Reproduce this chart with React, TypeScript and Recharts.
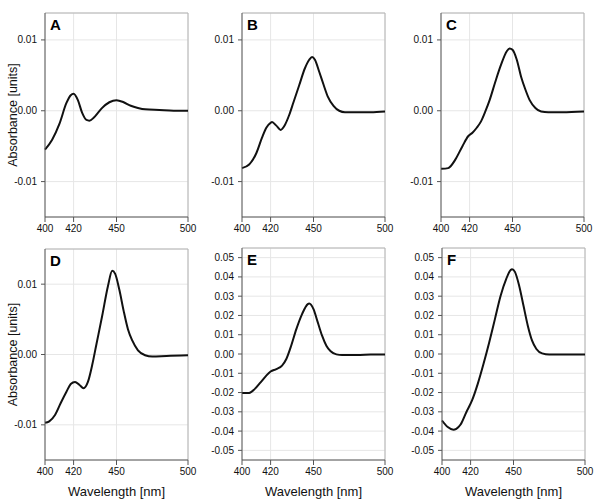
import React from "react";
import { LineChart, Line, XAxis, YAxis, CartesianGrid, ReferenceLine } from "recharts";

// difference spectra
const wavelengthA = [400, 405, 410, 415, 418, 420, 423, 426, 429, 431, 434, 437, 440, 445, 450, 455, 460, 465, 470, 480, 490, 500];
const absorbanceA = [-0.0055, -0.0041, -0.0019, 0.0011, 0.0022, 0.0024, 0.0015, -0.0003, -0.0013, -0.0014, -0.001, -0.0003, 0.0004, 0.0012, 0.0015, 0.0012, 0.0007, 0.0004, 0.0002, 0.0001, 0.0, 0.0];

const wavelengthB = [400, 405, 410, 414, 417, 420, 421, 424, 427, 430, 433, 436, 440, 444, 447, 449, 451, 454, 457, 460, 464, 468, 472, 480, 490, 500];
const absorbanceB = [-0.0081, -0.0076, -0.006, -0.0038, -0.0024, -0.0017, -0.0016, -0.0021, -0.0027, -0.002, -0.0006, 0.0012, 0.0036, 0.006, 0.0072, 0.0076, 0.0072, 0.0055, 0.0037, 0.002, 0.0007, 0.0, -0.0002, -0.0002, -0.0002, -0.0001];

const wavelengthC = [400, 405, 410, 415, 419, 422, 425, 428, 431, 434, 438, 442, 446, 448, 450, 453, 456, 459, 462, 466, 470, 475, 485, 500];
const absorbanceC = [-0.0082, -0.0081, -0.0069, -0.005, -0.0036, -0.0031, -0.0024, -0.0015, -0.0001, 0.0015, 0.0041, 0.0065, 0.0084, 0.0088, 0.0086, 0.0072, 0.0048, 0.003, 0.0015, 0.0004, -0.0001, -0.0002, -0.0002, -0.0001];

const wavelengthD = [400, 403, 407, 411, 415, 418, 421, 424, 427, 430, 433, 436, 440, 444, 447, 449, 452, 455, 458, 461, 465, 470, 475, 485, 500];
const absorbanceD = [-0.0097, -0.0095, -0.0086, -0.0069, -0.0053, -0.0042, -0.0039, -0.0043, -0.0048, -0.0039, -0.0015, 0.0015, 0.0055, 0.0097, 0.0119, 0.0115, 0.0092, 0.0062, 0.0036, 0.002, 0.0006, -0.0001, -0.0003, -0.0002, -0.0001];

const wavelengthE = [400, 405, 409, 413, 417, 420, 424, 428, 431, 434, 438, 442, 446, 447, 450, 453, 456, 459, 462, 466, 470, 480, 490, 500];
const absorbanceE = [-0.0203, -0.0202, -0.0181, -0.0147, -0.0112, -0.0091, -0.0078, -0.006, -0.0026, 0.0034, 0.0129, 0.0207, 0.0259, 0.0262, 0.0233, 0.0164, 0.0095, 0.0043, 0.0014, -0.0002, -0.0005, -0.0005, -0.0003, -0.0002];

const wavelengthF = [400, 404, 408, 410, 413, 417, 421, 425, 429, 433, 437, 441, 445, 448, 449, 451, 454, 457, 460, 463, 466, 470, 475, 485, 500];
const absorbanceF = [-0.0345, -0.0379, -0.0393, -0.0388, -0.0366, -0.0302, -0.0241, -0.0155, -0.0052, 0.006, 0.0181, 0.0302, 0.0391, 0.0436, 0.044, 0.0426, 0.0353, 0.025, 0.0147, 0.0069, 0.0026, 0.0003, -0.0003, -0.0003, -0.0002];

const xTicks = [400, 420, 450, 500];
const narrowTicks = [-0.01, 0, 0.01];
const wideTicks = [-0.05, -0.04, -0.03, -0.02, -0.01, 0, 0.01, 0.02, 0.03, 0.04, 0.05];

const AXIS = "#555";
const FRAME = "#b4b4b4";
const GRID = "#e6e6e6";
const FONT = "'Liberation Sans', Arial, sans-serif";

const PLOT_W = 143;
const Y_W = 45;

interface PanelProps {
  letter: string;
  wl: number[];
  ab: number[];
  left: number;
  top: number;
  height: number;
  domain: [number, number];
  ticks: number[];
  yTitle?: boolean;
  xTitle?: boolean;
}

function Panel({ letter, wl, ab, left, top, height, domain, ticks, yTitle, xTitle }: PanelProps) {
  const data = wl.map((w, i) => ({ wl: w, abs: ab[i] }));
  const xH = xTitle ? 40 : 25;
  const mid = 5 + height / 2;
  return (
    <div style={{ position: "absolute", left: left - Y_W, top: top - 5 }}>
      <LineChart
        width={Y_W + PLOT_W + 12}
        height={5 + height + xH}
        data={data}
        margin={{ top: 5, right: 12, left: 0, bottom: 0 }}
      >
        <CartesianGrid stroke={GRID} strokeWidth={1} />
        <XAxis
          dataKey="wl"
          type="number"
          domain={[400, 500]}
          ticks={xTicks}
          interval={0}
          height={xH}
          tickSize={5}
          tickMargin={3}
          axisLine={{ stroke: AXIS }}
          tickLine={{ stroke: AXIS }}
          tick={{ fontSize: 10, fill: "#111" }}
          label={
            xTitle
              ? { value: "Wavelength [nm]", position: "insideBottom", offset: 4, fontSize: 13, fill: "#111" }
              : undefined
          }
        />
        <YAxis
          type="number"
          domain={domain}
          allowDataOverflow
          ticks={ticks}
          interval={0}
          width={Y_W}
          tickSize={4}
          tickMargin={4}
          tickFormatter={(v: number) => v.toFixed(2)}
          axisLine={{ stroke: AXIS }}
          tickLine={{ stroke: AXIS }}
          tick={{ fontSize: 10, fill: "#111" }}
          label={
            yTitle
              ? () => (
                  <text
                    x={17}
                    y={mid}
                    transform={`rotate(-90 17 ${mid})`}
                    textAnchor="middle"
                    fontSize={12.5}
                    fill="#111"
                  >
                    Absorbance [units]
                  </text>
                )
              : undefined
          }
        />
        <ReferenceLine y={domain[1]} stroke={FRAME} strokeWidth={1} />
        <ReferenceLine x={500} stroke={FRAME} strokeWidth={1} />
        <Line
          type="monotone"
          dataKey="abs"
          stroke="#111"
          strokeWidth={2}
          dot={false}
          isAnimationActive={false}
        />
      </LineChart>
      <div
        style={{
          position: "absolute",
          left: Y_W + 5,
          top: 9,
          fontSize: 15,
          fontWeight: "bold",
          lineHeight: 1,
          color: "#000",
        }}
      >
        {letter}
      </div>
    </div>
  );
}

export default function App() {
  const topRow: [number, number] = [-0.015, 0.0138];
  const bottomRow: [number, number] = [-0.015, 0.015];
  const wide: [number, number] = [-0.055, 0.055];
  return (
    <div
      style={{
        position: "absolute",
        left: 0,
        top: 0,
        width: 597,
        height: 502,
        background: "#fff",
        fontFamily: FONT,
        overflow: "hidden",
      }}
    >
      <Panel letter="A" wl={wavelengthA} ab={absorbanceA} left={45} top={13} height={204} domain={topRow} ticks={narrowTicks} yTitle />
      <Panel letter="B" wl={wavelengthB} ab={absorbanceB} left={242} top={13} height={204} domain={topRow} ticks={narrowTicks} />
      <Panel letter="C" wl={wavelengthC} ab={absorbanceC} left={441} top={13} height={204} domain={topRow} ticks={narrowTicks} />
      <Panel letter="D" wl={wavelengthD} ab={absorbanceD} left={45} top={249} height={211} domain={bottomRow} ticks={narrowTicks} yTitle xTitle />
      <Panel letter="E" wl={wavelengthE} ab={absorbanceE} left={242} top={248} height={212} domain={wide} ticks={wideTicks} xTitle />
      <Panel letter="F" wl={wavelengthF} ab={absorbanceF} left={442} top={248} height={212} domain={wide} ticks={wideTicks} xTitle />
    </div>
  );
}
